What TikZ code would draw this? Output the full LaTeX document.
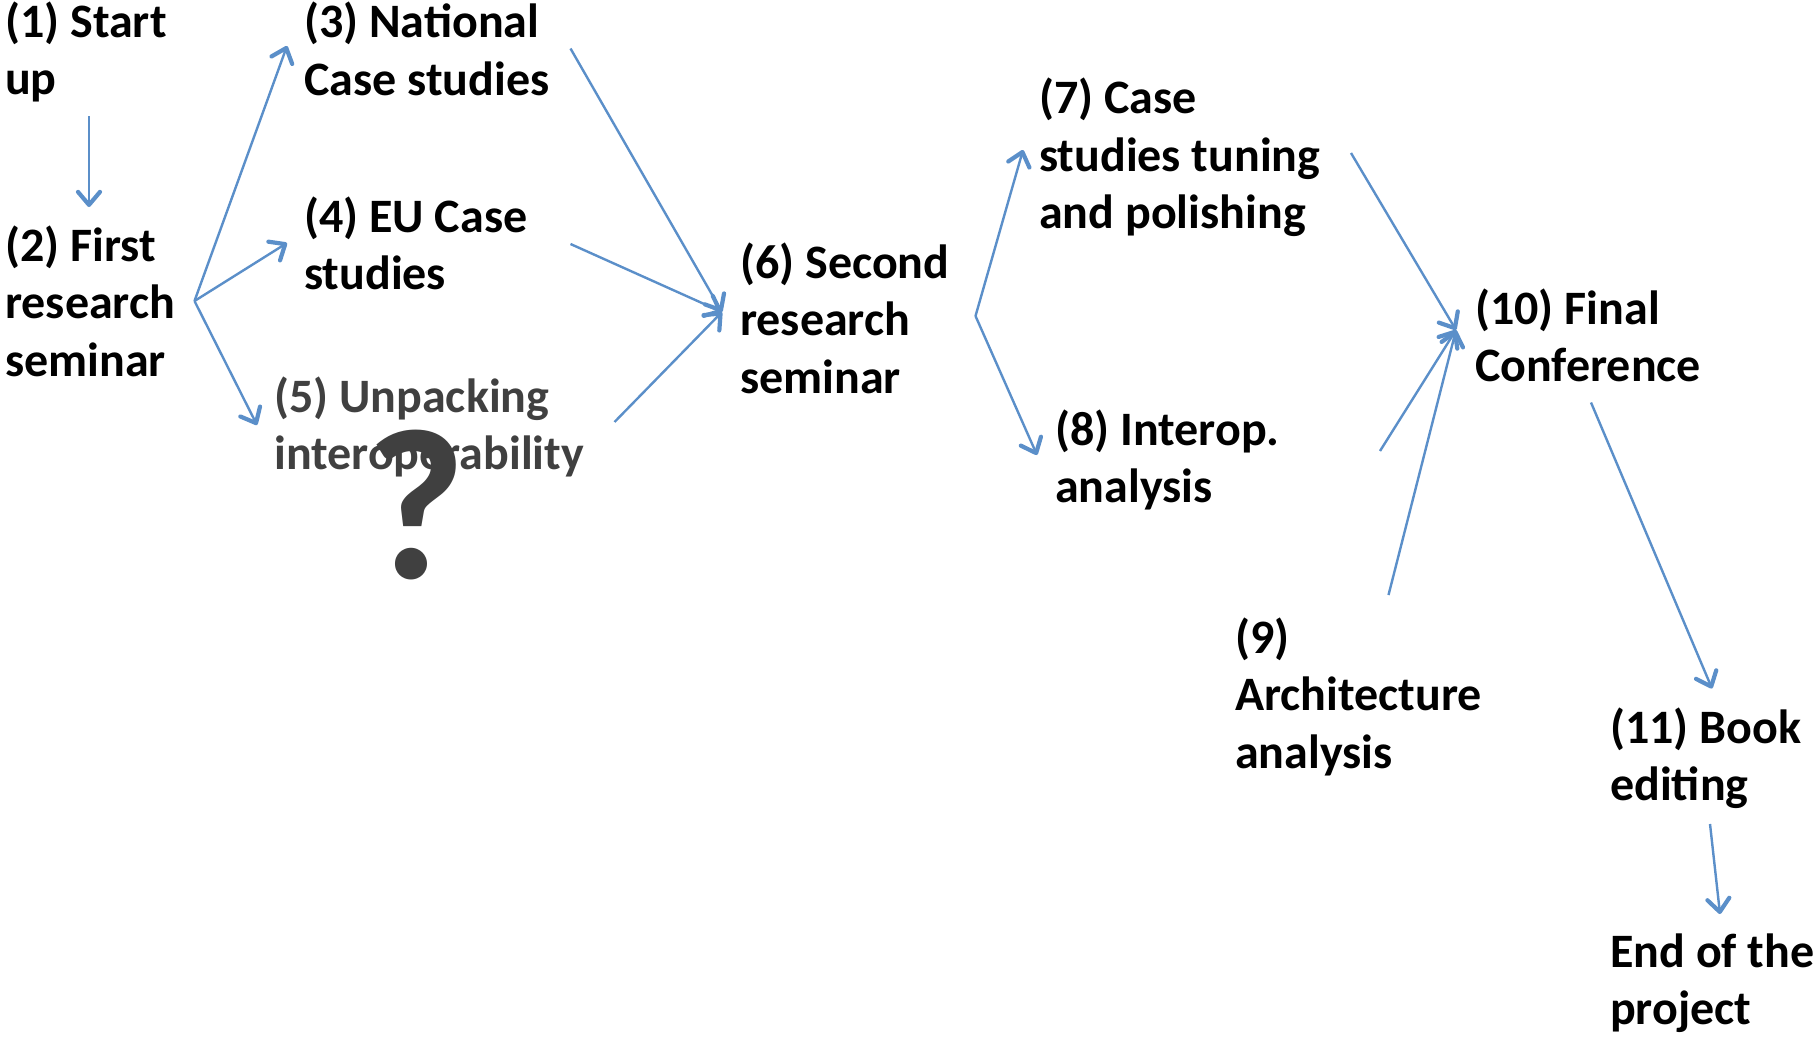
\documentclass[tikz,border=0pt]{standalone}
\usepackage{fontspec}
\setmainfont{Carlito}
\usetikzlibrary{arrows.meta}
\definecolor{arrowblue}{RGB}{91,143,201}
\definecolor{greytext}{RGB}{64,64,64}
\begin{document}
\begin{tikzpicture}[x=1pt,y=-1pt,
  lbl/.style={anchor=base west, inner sep=0pt, align=left,
    font=\bfseries\fontsize{48}{57.5}\selectfont},
  conn/.style={draw=arrowblue, line width=2.4pt,
    -{Straight Barb[length=13pt,width=22pt,line width=4.2pt,round]}}]
\useasboundingbox (0,0) rectangle (1814,1036);

% text nodes (anchored at the baseline of their last line)
\node[lbl] (n1) at (5,94.5) {(1) Start\\up};
\node[lbl] (n2) at (5,376) {(2) First\\research\\seminar};
\node[lbl] (n3) at (304,95) {(3) National\\Case studies};
\node[lbl] (n4) at (304,289.5) {(4) EU Case\\studies};
\node[lbl, text=greytext] (n5) at (274,469.5) {(5) Unpacking\\interoperability};
\node[anchor=base, inner sep=0pt, text=greytext,
  font=\bfseries\fontsize{215}{215}\selectfont] (q) at (416,578) {?};
\node[lbl] (n6) at (740,393) {(6) Second\\research\\seminar};
\node[lbl] (n7) at (1039,228.5) {(7) Case\\studies tuning\\and polishing};
\node[lbl] (n8) at (1055,502.5) {(8) Interop.\\analysis};
\node[lbl] (n9) at (1235,768) {(9)\\Architecture\\analysis};
\node[lbl] (n10) at (1475,381.5) {(10) Final\\Conference};
\node[lbl] (n11) at (1610,800.5) {(11) Book\\editing};
\node[lbl] (nend) at (1610,1024.5) {End of the\\project};

% connector end points
\coordinate (c1) at (89,116);
\coordinate (c2) at (89,207);
\coordinate (b2) at (194.5,301);
\coordinate (c3in) at (287,46);
\coordinate (c4in) at (287,243);
\coordinate (c5in) at (257,425);
\coordinate (c3out) at (570.5,48.5);
\coordinate (c4out) at (570.5,244);
\coordinate (c5out) at (614.5,422);
\coordinate (c6in) at (722,312);
\coordinate (b6) at (975.5,316);
\coordinate (c7in) at (1023,150);
\coordinate (c8in) at (1037,455);
\coordinate (c7out) at (1351,153);
\coordinate (c8out) at (1380,451);
\coordinate (c9out) at (1388.5,595);
\coordinate (c10in) at (1456,330);
\coordinate (c10out) at (1591,402.5);
\coordinate (c11in) at (1712,688.5);
\coordinate (c11out) at (1710,824);
\coordinate (cendin) at (1720,914);

% connectors
\draw[conn] (c1) -- (c2);
\draw[conn] (b2) -- (c3in);
\draw[conn] (b2) -- (c4in);
\draw[conn] (b2) -- (c5in);
\draw[conn] (c3out) -- (c6in);
\draw[conn] (c4out) -- (c6in);
\draw[conn] (c5out) -- (c6in);
\draw[conn] (b6) -- (c7in);
\draw[conn] (b6) -- (c8in);
\draw[conn] (c7out) -- (c10in);
\draw[conn] (c8out) -- (c10in);
\draw[conn] (c9out) -- (c10in);
\draw[conn] (c10out) -- (c11in);
\draw[conn] (c11out) -- (cendin);
\end{tikzpicture}
\end{document}
